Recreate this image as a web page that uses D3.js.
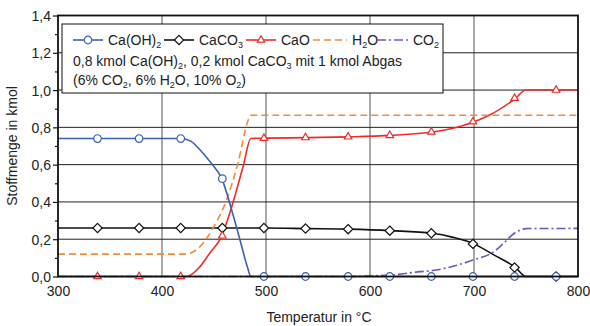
<!DOCTYPE html>
<html>
<head>
<meta charset="utf-8">
<script src="https://cdn.jsdelivr.net/npm/d3@7"></script>
<style>
  body { margin: 0; background: #fff; }
  svg { font-family: 'Liberation Sans', Arial, sans-serif; }
</style>
</head>
<body>
<svg width="590" height="326"></svg>
<script>
// temperatures in °C, amounts in kmol
const caOH2Line = [[300,0.74],[418,0.74],[428,0.725],[436.5,0.68],[447,0.61],[457.5,0.525],[467,0.357],[475,0.196],[482,0.053],[485.5,0],[800,0]];
const caCO3Line = [[300,0.26],[500,0.26],[540,0.257],[580,0.254],[620,0.246],[660,0.232],[680,0.21],[700,0.175],[719,0.116],[740,0.048],[750,0],[800,0]];
const caOLine = [[300,0],[424,0],[436.5,0.053],[446,0.126],[457.5,0.218],[464,0.32],[471,0.45],[478,0.59],[485.5,0.74],[500,0.742],[540,0.745],[580,0.749],[620,0.757],[660,0.775],[680,0.795],[700,0.83],[715,0.866],[740,0.956],[750,1.0],[800,1.0]];
const h2oLine = [[300,0.12],[422,0.12],[436.5,0.16],[449,0.259],[462,0.41],[473,0.607],[483,0.84],[485.5,0.865],[800,0.865]];
const co2Line = [[300,0],[570,0],[620,0.008],[648,0.026],[660,0.032],[680,0.055],[699,0.088],[719,0.133],[725,0.16],[741,0.24],[750,0.257],[800,0.258]];

const markerTemps = [338, 378, 418, 458, 498, 538, 579, 619, 659, 699, 739, 779];
const caOH2Marks = [0.74, 0.74, 0.74, 0.525, 0, 0, 0, 0, 0, 0, 0, 0];
const caCO3Marks = [0.26, 0.26, 0.26, 0.26, 0.26, 0.257, 0.254, 0.246, 0.232, 0.175, 0.048, 0];
const caOMarks = [0, 0, 0, 0.218, 0.742, 0.745, 0.749, 0.757, 0.775, 0.83, 0.956, 1.0];

const xTicks = [300, 400, 500, 600, 700, 800];
const yTicks = [0, 0.2, 0.4, 0.6, 0.8, 1.0, 1.2, 1.4];
const yMinorTicks = [0.1, 0.3, 0.5, 0.7, 0.9, 1.1, 1.3];

const svg = d3.select('svg');
const margin = { top: 15.5, left: 58, right: 12, bottom: 49.5 };
const width = 590 - margin.left - margin.right;
const height = 326 - margin.top - margin.bottom;

const xScale = d3.scaleLinear().domain([300, 800]).range([0, width]);
const yScale = d3.scaleLinear().domain([0, 1.4]).range([height, 0]);
const fmt = d => d3.format('.1f')(d).replace('.', ',');

const g = svg.append('g')
  .attr('transform', `translate(${margin.left}, ${margin.top})`);

// grid
g.append('g').selectAll('line')
  .data(xTicks.slice(1, -1))
  .enter().append('line')
    .attr('x1', d => xScale(d)).attr('x2', d => xScale(d))
    .attr('y1', 0).attr('y2', height)
    .attr('stroke', '#7a7a7a').attr('stroke-width', 1.3);
g.append('g').selectAll('line')
  .data(yTicks.slice(1, -1))
  .enter().append('line')
    .attr('x1', 0).attr('x2', width)
    .attr('y1', d => yScale(d)).attr('y2', d => yScale(d))
    .attr('stroke', '#222').attr('stroke-width', 1);

// axes
const yAxis = g.append('g')
  .call(d3.axisLeft(yScale).tickValues(yTicks).tickFormat(fmt).tickSize(5).tickPadding(2));
const yMinor = g.append('g')
  .call(d3.axisLeft(yScale).tickValues(yMinorTicks).tickFormat('').tickSize(3));
const xAxis = g.append('g')
  .attr('transform', `translate(0, ${height})`)
  .call(d3.axisBottom(xScale).tickValues(xTicks).tickSize(0).tickPadding(10));
[yAxis, yMinor, xAxis].forEach(a => {
  a.select('.domain').remove();
  a.selectAll('line').attr('stroke', '#111').attr('stroke-width', 1.2);
  a.selectAll('text').attr('font-size', 14).attr('fill', '#222')
    .attr('font-family', "'Liberation Sans', Arial, sans-serif");
});
yAxis.selectAll('text').attr('dy', '0.36em');

// lines
const line = d3.line()
  .x(d => xScale(d[0]))
  .y(d => yScale(d[1]))
  .curve(d3.curveMonotoneX);

const series = [
  { data: caCO3Line, color: '#111', dash: null },
  { data: caOLine, color: '#ee2a2a', dash: null },
  { data: h2oLine, color: '#f28c38', dash: '7,4' },
  { data: caOH2Line, color: '#3a60b4', dash: null },
  { data: co2Line, color: '#7454b4', dash: '9,3,2,3' }
];
series.forEach(s => {
  g.append('path')
    .attr('d', line(s.data))
    .attr('fill', 'none')
    .attr('stroke', s.color)
    .attr('stroke-width', 1.6)
    .attr('stroke-dasharray', s.dash);
});

// markers
const markerSets = [
  { values: caCO3Marks, color: '#111', shape: d3.symbolDiamond2, size: 55 },
  { values: caOMarks, color: '#ee2a2a', shape: d3.symbolTriangle2, size: 40 },
  { values: caOH2Marks, color: '#3a60b4', shape: d3.symbolCircle, size: 45 }
];
markerSets.forEach(m => {
  g.append('g').selectAll('path')
    .data(markerTemps.map((t, i) => [t, m.values[i]]))
    .enter().append('path')
      .attr('transform', d => `translate(${xScale(d[0])}, ${yScale(d[1])})`)
      .attr('d', d3.symbol().type(m.shape).size(m.size))
      .attr('fill', '#fff')
      .attr('stroke', m.color)
      .attr('stroke-width', 1.2);
});

// frame
g.append('rect')
  .attr('width', width).attr('height', height)
  .attr('fill', 'none').attr('stroke', '#111').attr('stroke-width', 1.8);

// legend
const legend = g.append('g').attr('transform', `translate(${62 - margin.left}, ${24 - margin.top})`);
legend.append('rect')
  .attr('width', 381).attr('height', 69)
  .attr('fill', '#fff').attr('stroke', '#111').attr('stroke-width', 1);

const legendItems = [
  { x1: 11, x2: 41, label: ['Ca(OH)', { sub: '2' }], color: '#3a60b4', dash: null, shape: d3.symbolCircle, size: 45 },
  { x1: 102, x2: 132, label: ['CaCO', { sub: '3' }], color: '#111', dash: null, shape: d3.symbolDiamond2, size: 55 },
  { x1: 184, x2: 214, label: ['CaO'], color: '#ee2a2a', dash: null, shape: d3.symbolTriangle2, size: 40 },
  { x1: 251, x2: 285, label: ['H', { sub: '2' }, 'O'], color: '#f28c38', dash: '7,4', shape: null },
  { x1: 315, x2: 346, label: ['CO', { sub: '2' }], color: '#7454b4', dash: '9,3,2,3', shape: null }
];
// text with subscripts: strings are normal runs, {sub} objects are lowered
const addSubText = (parent, x, y, parts) => {
  const t = parent.append('text').attr('x', x).attr('y', y)
    .attr('font-size', 14).attr('fill', '#222');
  let lowered = false;
  parts.forEach(p => {
    const span = t.append('tspan');
    if (typeof p === 'string') {
      span.text(p);
      if (lowered) span.attr('dy', -3);
      lowered = false;
    } else {
      span.attr('font-size', 9).attr('dy', lowered ? 0 : 3).text(p.sub);
      lowered = true;
    }
  });
  return t;
};
legendItems.forEach(it => {
  legend.append('line')
    .attr('x1', it.x1).attr('x2', it.x2).attr('y1', 16).attr('y2', 16)
    .attr('stroke', it.color).attr('stroke-width', 1.6)
    .attr('stroke-dasharray', it.dash);
  if (it.shape) {
    legend.append('path')
      .attr('transform', `translate(${(it.x1 + it.x2) / 2}, 16)`)
      .attr('d', d3.symbol().type(it.shape).size(it.size))
      .attr('fill', '#fff').attr('stroke', it.color).attr('stroke-width', 1.2);
  }
  addSubText(legend, it.x2 + 5, 21, it.label);
});
addSubText(legend, 11, 42, ['0,8 kmol Ca(OH)', { sub: '2' }, ', 0,2 kmol CaCO', { sub: '3' }, ' mit 1 kmol Abgas']);
addSubText(legend, 11, 61, ['(6% CO', { sub: '2' }, ', 6% H', { sub: '2' }, 'O, 10% O', { sub: '2' }, ')']);

// axis titles
svg.append('text')
  .attr('transform', `translate(17, ${margin.top + height / 2}) rotate(-90)`)
  .attr('text-anchor', 'middle')
  .attr('font-size', 14).attr('fill', '#222')
  .text('Stoffmenge in kmol');
svg.append('text')
  .attr('x', margin.left + width / 2 + 1).attr('y', 322)
  .attr('text-anchor', 'middle')
  .attr('font-size', 14).attr('fill', '#222')
  .text('Temperatur in °C');
</script>
</body>
</html>
